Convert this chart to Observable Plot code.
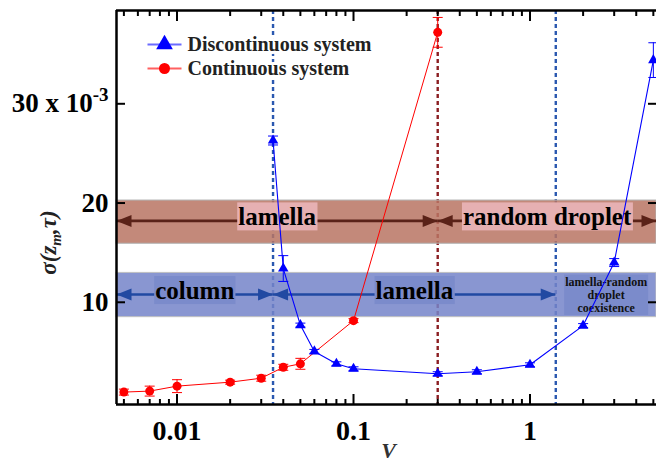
<!DOCTYPE html>
<html><head><meta charset="utf-8">
<script src="https://cdn.jsdelivr.net/npm/d3@7"></script>
<script src="https://cdn.jsdelivr.net/npm/@observablehq/plot@0.6"></script>
<style>body{margin:0;background:#fff}</style>
</head><body><div id="chart"></div>
<script>
// ---- data ----
const seriesNames = ["Discontinuous system", "Continuous system"];
const V_disc = [0.035, 0.04, 0.05, 0.06, 0.08, 0.1, 0.3, 0.5, 1, 2, 3, 5];
const sigma_disc = [26.3, 13.4, 7.7, 5.05, 3.8, 3.3, 2.8, 3.0, 3.7, 7.65, 14.0, 34.4];
const err_disc = [0.45, 1.3, 0.2, 0.2, 0.2, 0.2, 0.2, 0.2, 0.2, 0.2, 0.4, 1.75];
const V_cont = [0.005, 0.007, 0.01, 0.02, 0.03, 0.04, 0.05, 0.1, 0.3];
const sigma_cont = [0.95, 1.05, 1.55, 1.95, 2.35, 3.45, 3.8, 8.15, 37.2];
const err_cont = [0.3, 0.5, 0.65, 0.2, 0.3, 0.3, 0.55, 0.2, 1.5];
const transitions = [0.035, 0.3, 1.4];
const xTickValues = [0.01, 0.1, 1];
const xTickLabels = ["0.01", "0.1", "1"];
const yTickValues = [10, 20, 30];
const yTickLabels = ["10", "20", "30 x 10"];
const bandLow = [15.9, 8.5];
const bandHigh = [20.25, 12.96];
const arrowLevel = [18.2, 10.78];
const upperLabels = ["lamella", "random droplet"];
const lowerLabels = ["column", "lamella", "lamella-random\ndroplet\ncoexistence"];

// ---- scale extents ----
const X_MIN = 0.00454, X_MAX = 5.21;
const Y_MIN = -0.3, Y_MAX = 39.4;

const disc = V_disc.map((v, i) => ({V: v, s: sigma_disc[i], e: err_disc[i]}));
const cont = V_cont.map((v, i) => ({V: v, s: sigma_cont[i], e: err_cont[i]}));
const upperSeg = [
  {x1: X_MIN, x2: transitions[1], y: arrowLevel[0], label: upperLabels[0]},
  {x1: transitions[1], x2: X_MAX, y: arrowLevel[0], label: upperLabels[1]}
];
const lowerSeg = [
  {x1: X_MIN, x2: transitions[0], y: arrowLevel[1], label: lowerLabels[0]},
  {x1: transitions[0], x2: transitions[2], y: arrowLevel[1], label: lowerLabels[1]}
];
const coex = [{x1: transitions[2], x2: X_MAX, y: arrowLevel[1], label: lowerLabels[2]}];
const bands = bandLow.map((l, i) => ({y1: l, y2: bandHigh[i]}));
const minorX = [];
for (const dec of [0.001, 0.01, 0.1, 1]) for (let k = 2; k <= 9; k++) {
  const v = k * dec; if (v >= X_MIN && v <= X_MAX) minorX.push(v);
}
const mid = d => Math.sqrt(d.x1 * d.x2);

const headSym = {draw(ctx) { ctx.moveTo(0, 0); ctx.lineTo(-15, -6); ctx.lineTo(-15, 6); ctx.closePath(); }};
const capSym = {draw(ctx) { ctx.moveTo(-5, 0); ctx.lineTo(5, 0); }};
const legLine = {draw(ctx) { ctx.moveTo(-17, 0); ctx.lineTo(17, 0); }};

const BROWN_DARK = "#5a2218", BLUE_DARK = "#2149a2";

function arrowMarks(segs, color) {
  return [
    Plot.ruleY(segs, {y: "y", x1: "x1", x2: "x2", stroke: color, strokeWidth: 2.6}),
    Plot.dot(segs, {x: "x1", y: "y", symbol: headSym, rotate: 180, fill: color, stroke: "none"}),
    Plot.dot(segs, {x: "x2", y: "y", symbol: headSym, rotate: 0, fill: color, stroke: "none"})
  ];
}
const axisCommon = {label: null, tickFormat: () => "", strokeWidth: 2};
const legendText = {frameAnchor: "top-left", dx: 71, textAnchor: "start", lineAnchor: "middle", fontSize: 20, fontWeight: "bold", fill: "#222", stroke: "white", strokeWidth: 6};

const chart = Plot.plot({
  width: 656, height: 461,
  marginLeft: 116, marginRight: 0, marginTop: 10, marginBottom: 57,
  x: {type: "log", domain: [X_MIN, X_MAX]},
  y: {domain: [Y_MIN, Y_MAX]},
  style: {fontFamily: "'Liberation Serif','Times New Roman',serif", background: "white", overflow: "visible", color: "black"},
  marks: [
    Plot.ruleX([transitions[0], transitions[2]], {stroke: "#2a58b0", strokeWidth: 2.4, strokeDasharray: "4,3"}),
    Plot.ruleX([transitions[1]], {stroke: "#8b1e22", strokeWidth: 2.4, strokeDasharray: "4,3"}),
    Plot.rect([bands[0]], {y1: "y1", y2: "y2", fill: "#b87463", fillOpacity: 0.85, stroke: "#b0b0b0", strokeWidth: 1}),
    Plot.rect([bands[1]], {y1: "y1", y2: "y2", fill: "#7484c9", fillOpacity: 0.85, stroke: "#c0c0c0", strokeWidth: 1}),
    ...arrowMarks(upperSeg, BROWN_DARK),
    ...arrowMarks(lowerSeg, BLUE_DARK),
    Plot.text(upperSeg, {x: mid, y: "y", text: "label", dy: -4, fontSize: 25, fontWeight: "bold", fill: "black", className: "boxPink"}),
    Plot.text(lowerSeg, {x: mid, y: "y", text: "label", dy: -4, fontSize: 25, fontWeight: "bold", fill: "black", className: "boxBlue"}),
    Plot.text(coex, {x: mid, y: "y", text: "label", dy: 0, fontSize: 12, lineHeight: 1.1, fontWeight: "bold", fill: "#111", className: "boxBlue2"}),
    // continuous series
    Plot.line(cont, {x: "V", y: "s", stroke: "#ff0000", strokeWidth: 1}),
    Plot.ruleX(cont, {x: "V", y1: d => d.s - d.e, y2: d => d.s + d.e, stroke: "#ff0000", strokeWidth: 1}),
    Plot.dot(cont, {x: "V", y: d => d.s - d.e, symbol: capSym, stroke: "#ff0000", fill: "none", strokeWidth: 1}),
    Plot.dot(cont, {x: "V", y: d => d.s + d.e, symbol: capSym, stroke: "#ff0000", fill: "none", strokeWidth: 1}),
    Plot.dot(cont, {x: "V", y: "s", r: 4.5, fill: "#ff0000", stroke: "none"}),
    // discontinuous series
    Plot.line(disc, {x: "V", y: "s", stroke: "#0000ff", strokeWidth: 1.1}),
    Plot.ruleX(disc, {x: "V", y1: d => d.s - d.e, y2: d => d.s + d.e, stroke: "#0000ff", strokeWidth: 1}),
    Plot.dot(disc, {x: "V", y: d => d.s - d.e, symbol: capSym, stroke: "#0000ff", fill: "none", strokeWidth: 1}),
    Plot.dot(disc, {x: "V", y: d => d.s + d.e, symbol: capSym, stroke: "#0000ff", fill: "none", strokeWidth: 1}),
    Plot.dot(disc, {x: "V", y: "s", r: 3.9, symbol: "triangle", fill: "#0000ff", stroke: "none"}),
    // axes
    Plot.axisX({...axisCommon, anchor: "bottom", ticks: xTickValues, tickSize: -10}),
    Plot.axisX({...axisCommon, anchor: "bottom", ticks: minorX, tickSize: -5}),
    Plot.axisX({...axisCommon, anchor: "top", ticks: xTickValues, tickSize: -10}),
    Plot.axisX({...axisCommon, anchor: "top", ticks: minorX, tickSize: -5}),
    Plot.axisX({anchor: "bottom", label: null, ticks: xTickValues, tickSize: 0, tickPadding: 16,
      tickFormat: d => xTickLabels[xTickValues.indexOf(d)], fontSize: 28, fontWeight: "bold", fill: "black"}),
    Plot.axisY({...axisCommon, anchor: "left", ticks: yTickValues, tickSize: -9}),
    Plot.axisY({...axisCommon, anchor: "right", ticks: yTickValues, tickSize: -9}),
    Plot.axisY({anchor: "left", label: null, ticks: yTickValues, tickSize: 0, tickPadding: 8,
      tickFormat: d => yTickLabels[yTickValues.indexOf(d)], fontSize: 27, fontWeight: "bold", fill: "black"}),
    Plot.ruleX([X_MIN], {stroke: "black", strokeWidth: 2.5}),
    Plot.ruleY([Y_MIN, Y_MAX], {stroke: "black", strokeWidth: 2.5}),
    // legend
    Plot.dot([seriesNames[0]], {frameAnchor: "top-left", dx: 48, dy: 34, symbol: legLine, stroke: "#6b6bff", strokeWidth: 2, fill: "none"}),
    Plot.dot([seriesNames[0]], {frameAnchor: "top-left", dx: 48, dy: 34, symbol: "triangle", r: 6.2, fill: "#0000ff", stroke: "none"}),
    Plot.text([seriesNames[0]], {...legendText, text: d => d, dy: 34}),
    Plot.dot([seriesNames[1]], {frameAnchor: "top-left", dx: 48, dy: 58, symbol: legLine, stroke: "#ff6060", strokeWidth: 2, fill: "none"}),
    Plot.dot([seriesNames[1]], {frameAnchor: "top-left", dx: 48, dy: 58, r: 5.5, fill: "#ff0000", stroke: "none"}),
    Plot.text([seriesNames[1]], {...legendText, text: d => d, dy: 58}),
    // axis titles
    Plot.text(["σ"], {text: d => d, frameAnchor: "left", dx: -67.5, dy: 35, rotate: -90, textAnchor: "middle", lineAnchor: "middle", fontSize: 23, fontStyle: "italic", fontWeight: "bold", fill: "#222", className: "ylab"}),
    Plot.text(["V"], {text: d => d, frameAnchor: "bottom", dx: 2, dy: 46, textAnchor: "middle", lineAnchor: "middle", fontSize: 22, fontStyle: "italic", fontWeight: "bold", fill: "#333"})
  ]
});
document.getElementById("chart").appendChild(chart);

const NS = "http://www.w3.org/2000/svg";
function addBoxes(cls, fill, padX, padY) {
  chart.querySelectorAll(`g.${cls} text`).forEach(t => {
    const b = t.getBBox();
    const r = document.createElementNS(NS, "rect");
    r.setAttribute("x", b.x - padX); r.setAttribute("y", b.y - padY);
    r.setAttribute("width", b.width + 2 * padX); r.setAttribute("height", b.height + 2 * padY);
    r.setAttribute("fill", fill); r.setAttribute("stroke", "none");
    if (t.getAttribute("transform")) r.setAttribute("transform", t.getAttribute("transform"));
    t.parentNode.insertBefore(r, t);
  });
}
addBoxes("boxPink", "#e6b0b2", 1, 0.5);
addBoxes("boxBlue", "#7b8bcb", 1, 0.5);
addBoxes("boxBlue2", "#7b8bcb", 1, 0);

// superscript on the top y tick label
chart.querySelectorAll("text").forEach(t => {
  if (t.textContent === "30 x 10") {
    const s = document.createElementNS(NS, "tspan");
    s.setAttribute("dy", "-11"); s.setAttribute("font-size", "19"); s.textContent = "-3";
    t.appendChild(s);
  }
});
// y-axis title with subscript
const yl = chart.querySelector("g.ylab text");
if (yl) {
  yl.textContent = "";
  const parts = [["σ(z", null], ["m", "sub"], [",τ)", "back"]];
  for (const [txt, kind] of parts) {
    const s = document.createElementNS(NS, "tspan");
    s.textContent = txt;
    if (kind === "sub") { s.setAttribute("dy", "5"); s.setAttribute("font-size", "15"); }
    if (kind === "back") { s.setAttribute("dy", "-5"); }
    yl.appendChild(s);
  }
}
</script>
</body></html>
